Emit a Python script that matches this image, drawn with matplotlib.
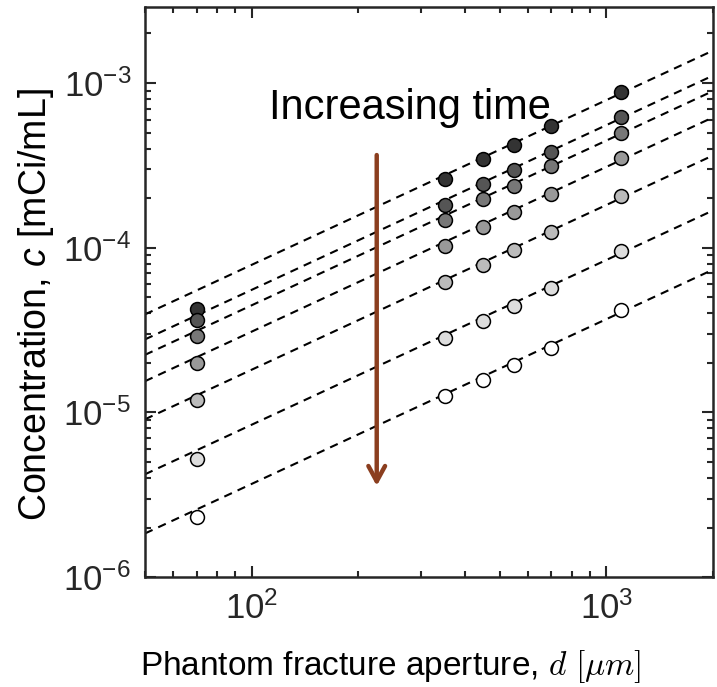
import numpy as np
import matplotlib

matplotlib.use("Agg")
import matplotlib.pyplot as plt
from matplotlib.ticker import LogLocator, NullFormatter

plt.rcParams["font.family"] = ["Liberation Sans", "DejaVu Sans"]
plt.rcParams["mathtext.fontset"] = "custom"
plt.rcParams["mathtext.rm"] = "Liberation Sans"
plt.rcParams["mathtext.it"] = "Liberation Sans:italic"
plt.rcParams["axes.unicode_minus"] = False

# Phantom fracture aperture (um)
aperture = [70, 350, 450, 550, 700, 1100]

# Concentration (mCi/mL), one series per time step (earliest first)
conc_t1 = [4.25e-5, 2.61e-4, 3.48e-4, 4.19e-4, 5.49e-4, 8.82e-4]
conc_t2 = [3.62e-5, 1.82e-4, 2.43e-4, 2.96e-4, 3.83e-4, 6.25e-4]
conc_t3 = [2.90e-5, 1.47e-4, 1.97e-4, 2.38e-4, 3.14e-4, 5.00e-4]
conc_t4 = [1.99e-5, 1.03e-4, 1.34e-4, 1.64e-4, 2.12e-4, 3.50e-4]
conc_t5 = [1.19e-5, 6.16e-5, 7.89e-5, 9.72e-5, 1.24e-4, 2.05e-4]
conc_t6 = [5.24e-6, 2.82e-5, 3.61e-5, 4.45e-5, 5.70e-5, 9.59e-5]
conc_t7 = [2.32e-6, 1.25e-5, 1.58e-5, 1.95e-5, 2.45e-5, 4.21e-5]

series = [conc_t1, conc_t2, conc_t3, conc_t4, conc_t5, conc_t6, conc_t7]
fills = ["#333333", "#555555", "#777777", "#999999", "#bbbbbb", "#dddddd", "#ffffff"]

fig = plt.figure(figsize=(7.17, 6.87), dpi=100)
ax = fig.add_axes([0.2022, 0.160, 0.7922, 0.830])

d = np.asarray(aperture, dtype=float)
x_line = np.logspace(np.log10(50), np.log10(2000), 50)
for conc, fc in zip(series, fills):
    # proportional fit c = a * d (least squares)
    c = np.asarray(conc)
    a = np.sum(c * d) / np.sum(d * d)
    ax.plot(x_line, a * x_line, color="black", lw=1.5, dashes=(4, 3), zorder=2)
    ax.plot(aperture, conc, "o", ms=10, mfc=fc, mec="black", mew=1.1, zorder=3)

ax.set_xscale("log")
ax.set_yscale("log")
ax.set_xlim(50, 2000)
ax.set_ylim(1e-6, 2.9e-3)

ax.xaxis.set_minor_locator(LogLocator(base=10, subs=np.arange(2, 10)))
ax.yaxis.set_minor_locator(LogLocator(base=10, subs=np.arange(2, 10)))
ax.xaxis.set_minor_formatter(NullFormatter())
ax.yaxis.set_minor_formatter(NullFormatter())

ax.tick_params(which="both", direction="in", top=True, right=True,
               color="#262626", width=1.5, labelsize=25, labelcolor="#262626")
ax.tick_params(which="major", length=8, pad=10)
ax.tick_params(which="minor", length=4)
for sp in ax.spines.values():
    sp.set_color("#262626")
    sp.set_linewidth(1.8)

ax.set_ylabel("Concentration, $c$ [mCi/mL]", fontsize=27)
ax.yaxis.set_label_coords(-0.156, 0.477)
ax.set_xlabel(r"Phantom fracture aperture, $d\ [\mu m]$", fontsize=24,
              math_fontfamily="cm")
ax.xaxis.set_label_coords(0.433, -0.125)

ax.text(0.467, 0.823, "Increasing time", transform=ax.transAxes,
        fontsize=30, ha="center", va="center")
ax.annotate("", xy=(0.408, 0.155), xytext=(0.408, 0.745),
            xycoords="axes fraction",
            arrowprops=dict(arrowstyle="->,head_length=1.1,head_width=0.6",
                            color="#8b3e1f", lw=3.2))

fig.savefig("out.png", dpi=100)
